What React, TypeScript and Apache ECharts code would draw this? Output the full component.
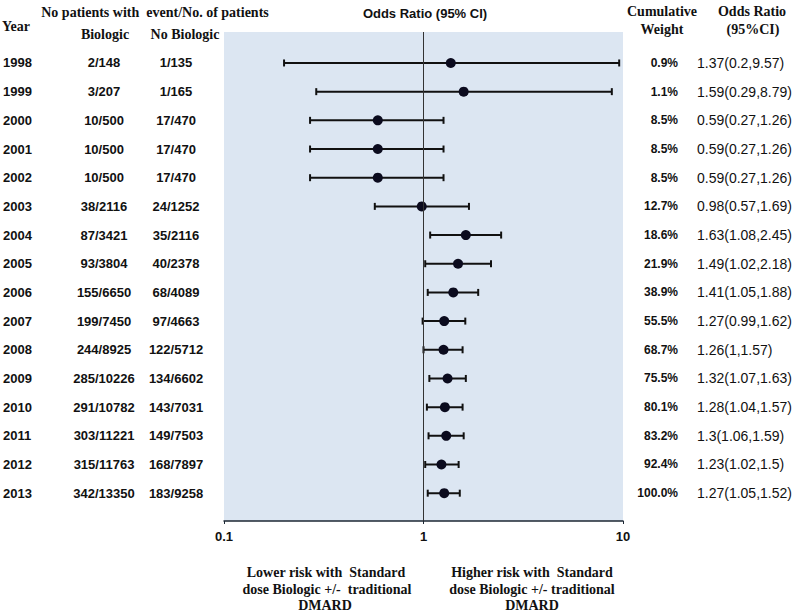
import React, { useEffect, useRef } from "react";
import * as echarts from "echarts";

const years = ["1998", "1999", "2000", "2001", "2002", "2003", "2004", "2005", "2006", "2007", "2008", "2009", "2010", "2011", "2012", "2013"];
const biologic = ["2/148", "3/207", "10/500", "10/500", "10/500", "38/2116", "87/3421", "93/3804", "155/6650", "199/7450", "244/8925", "285/10226", "291/10782", "303/11221", "315/11763", "342/13350"];
const noBiologic = ["1/135", "1/165", "17/470", "17/470", "17/470", "24/1252", "35/2116", "40/2378", "68/4089", "97/4663", "122/5712", "134/6602", "143/7031", "149/7503", "168/7897", "183/9258"];
const cumWeight = [0.9, 1.1, 8.5, 8.5, 8.5, 12.7, 18.6, 21.9, 38.9, 55.5, 68.7, 75.5, 80.1, 83.2, 92.4, 100.0];
const oddsRatio = [1.37, 1.59, 0.59, 0.59, 0.59, 0.98, 1.63, 1.49, 1.41, 1.27, 1.26, 1.32, 1.28, 1.3, 1.23, 1.27];
const ciLow = [0.2, 0.29, 0.27, 0.27, 0.27, 0.57, 1.08, 1.02, 1.05, 0.99, 1, 1.07, 1.04, 1.06, 1.02, 1.05];
const ciHigh = [9.57, 8.79, 1.26, 1.26, 1.26, 1.69, 2.45, 2.18, 1.88, 1.62, 1.57, 1.63, 1.57, 1.59, 1.5, 1.52];
const xTicks = [0.1, 1, 10];

const SERIF = "'Liberation Serif', 'Times New Roman', serif";
const SANS = "'Liberation Sans', Arial, sans-serif";

export default function App() {
  const ref = useRef<HTMLDivElement>(null);
  useEffect(() => {
    if (!ref.current) return;
    const chart = echarts.init(ref.current, null, { renderer: "svg" });

    const serifBold = (text: string, x: number, y: number, align = "center") => ({
      type: "text",
      x,
      y,
      style: { text, x: 0, y: 0, fill: "#111", font: `bold 14px ${SERIF}`, textAlign: align, textVerticalAlign: "middle" },
    });

    const rowData = years.map((_, i) => [1, i]);

    const option: any = {
      animation: false,
      backgroundColor: "#ffffff",
      grid: {
        left: 224,
        right: 177,
        top: 32,
        bottom: 92,
        show: true,
        backgroundColor: "#dce6f2",
        borderWidth: 0,
      },
      xAxis: {
        type: "log",
        logBase: 10,
        min: 0.1,
        max: 10,
        splitLine: { show: false },
        axisLine: { show: true, onZero: false, lineStyle: { color: "#1c2733", width: 1.5 } },
        axisTick: { show: true, length: 3, lineStyle: { color: "#1c2733" } },
        minorTick: { show: false },
        axisLabel: {
          color: "#111",
          fontFamily: SANS,
          fontWeight: "bold",
          fontSize: 13,
          margin: 9,
          formatter: (v: number) => (xTicks.some((t) => Math.abs(t - v) < 1e-9) ? String(v) : ""),
        },
      },
      yAxis: {
        type: "value",
        inverse: true,
        min: -1.08,
        max: 15.97,
        show: false,
      },
      graphic: [
        serifBold("No patients with  event/No. of patients", 155, 12),
        serifBold("Year", 2, 26, "left"),
        serifBold("Biologic", 105, 34),
        serifBold("No Biologic", 185, 34),
        {
          type: "text",
          x: 425,
          y: 13,
          style: { text: "Odds Ratio (95% CI)", fill: "#111", font: `bold 13px ${SANS}`, textAlign: "center", textVerticalAlign: "middle" },
        },
        serifBold("Cumulative", 662, 11),
        serifBold("Weight", 662, 29),
        serifBold("Odds Ratio", 752, 11),
        serifBold("(95%CI)", 753, 29),
        serifBold("Lower risk with  Standard", 326, 572),
        serifBold("dose Biologic +/-  traditional", 327, 589),
        serifBold("DMARD", 325, 605),
        serifBold("Higher risk with  Standard", 532, 572),
        serifBold("dose Biologic +/- traditional", 532, 589),
        serifBold("DMARD", 532, 605),
      ],
      series: [
        {
          type: "custom",
          name: "ci",
          data: years.map((_, i) => [ciLow[i], ciHigh[i], i]),
          encode: { x: [0, 1], y: 2 },
          renderItem: (params: any, api: any) => {
            const idx = api.value(2);
            const a = api.coord([api.value(0), idx]);
            const b = api.coord([api.value(1), idx]);
            const st = { stroke: "#111", lineWidth: 2 };
            return {
              type: "group",
              children: [
                { type: "line", shape: { x1: a[0], y1: a[1], x2: b[0], y2: b[1] }, style: st },
                { type: "line", shape: { x1: a[0], y1: a[1] - 3.5, x2: a[0], y2: a[1] + 3.5 }, style: st },
                { type: "line", shape: { x1: b[0], y1: b[1] - 3.5, x2: b[0], y2: b[1] + 3.5 }, style: st },
              ],
            };
          },
          z: 2,
        },
        {
          type: "scatter",
          name: "or",
          data: years.map((_, i) => [oddsRatio[i], i]),
          symbol: "circle",
          symbolSize: 10,
          itemStyle: { color: "#0b0b1e", opacity: 1 },
          markLine: {
            silent: true,
            symbol: ["none", "none"],
            label: { show: false },
            lineStyle: { color: "#333", width: 1, type: "solid" },
            data: [{ xAxis: 1 }],
          },
          z: 3,
        },
        {
          type: "custom",
          name: "table",
          data: rowData,
          encode: { x: 0, y: 1 },
          clip: false,
          renderItem: (params: any, api: any) => {
            const i = api.value(1);
            const y = api.coord([1, i])[1];
            const base = { fill: "#111", textVerticalAlign: "middle" };
            const boldSans = `bold 13px ${SANS}`;
            return {
              type: "group",
              children: [
                { type: "text", x: 3, y, style: { ...base, text: years[i], font: boldSans, textAlign: "left" } },
                { type: "text", x: 104, y, style: { ...base, text: biologic[i], font: boldSans, textAlign: "center" } },
                { type: "text", x: 176, y, style: { ...base, text: noBiologic[i], font: boldSans, textAlign: "center" } },
                { type: "text", x: 678, y, style: { ...base, text: cumWeight[i].toFixed(1) + "%", font: `bold 12px ${SANS}`, textAlign: "right" } },
                {
                  type: "text",
                  x: 697,
                  y,
                  style: { ...base, text: `${oddsRatio[i]}(${ciLow[i]},${ciHigh[i]})`, font: `14px ${SANS}`, textAlign: "left" },
                },
              ],
            };
          },
          z: 4,
        },
      ],
    };
    chart.setOption(option);
    return () => chart.dispose();
  }, []);
  return <div ref={ref} style={{ width: 800, height: 613, position: "absolute", left: 0, top: 0 }} />;
}
